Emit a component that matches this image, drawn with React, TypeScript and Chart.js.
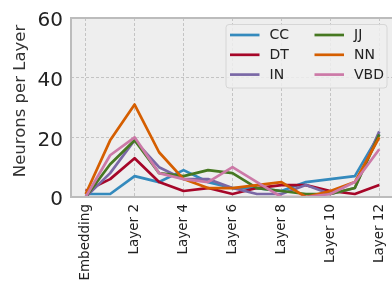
import React, { useEffect, useRef } from "react";
import { Chart, registerables } from "chart.js";

Chart.register(...registerables);

const categories = [
  "Embedding", "Layer 1", "Layer 2", "Layer 3", "Layer 4", "Layer 5", "Layer 6",
  "Layer 7", "Layer 8", "Layer 9", "Layer 10", "Layer 11", "Layer 12",
];
const xTickIndices = [0, 2, 4, 6, 8, 10, 12];
const yTicks = [0, 20, 40, 60];
const yAxisLabel = "Neurons per Layer";

const seriesNames = ["CC", "DT", "IN", "JJ", "NN", "VBD"];
const seriesColors = ["#348ABD", "#A60628", "#7A68A6", "#467821", "#D55E00", "#CC79A7"];

const ccValues = [1, 1, 7, 5, 9, 5, 3, 3, 2, 5, 6, 7, 21];
const dtValues = [2, 6, 13, 5, 2, 3, 1, 3, 4, 4, 2, 1, 4];
const inValues = [0, 8, 19, 10, 6, 6, 3, 1, 1, 4, 1, 3, 22];
const jjValues = [0, 11, 19, 8, 7, 9, 8, 3, 2, 1, 1, 3, 21];
const nnValues = [1, 19, 31, 15, 6, 3, 3, 4, 5, 0, 2, 5, 20];
const vbdValues = [0, 14, 20, 8, 6, 5, 10, 5, 0, 0, 1, 5, 16];

const seriesValues = [ccValues, dtValues, inValues, jjValues, nnValues, vbdValues];

const FONT = "'DejaVu Sans', 'Liberation Sans', sans-serif";

const bgPlugin = {
  id: "bgPlugin",
  beforeDraw(chart: any) {
    const { ctx, chartArea: a } = chart;
    ctx.save();
    ctx.fillStyle = "#ffffff";
    ctx.fillRect(0, 0, chart.width, chart.height);
    ctx.fillStyle = "#eeeeee";
    ctx.fillRect(a.left, a.top, a.right - a.left, a.bottom - a.top);
    ctx.restore();
  },
  afterDatasetsDraw(chart: any) {
    const { ctx, chartArea: a } = chart;
    ctx.save();
    ctx.strokeStyle = "#bcbcbc";
    ctx.lineWidth = 2;
    ctx.strokeRect(a.left, a.top, a.right - a.left + 4, a.bottom - a.top);
    ctx.restore();
  },
  afterDraw(chart: any) {
    const { ctx, chartArea: a } = chart;
    ctx.save();
    // y axis label
    ctx.save();
    ctx.translate(20.5, 101);
    ctx.rotate(-Math.PI / 2);
    ctx.font = `16.5px ${FONT}`;
    ctx.fillStyle = "#333333";
    ctx.textAlign = "center";
    ctx.textBaseline = "middle";
    ctx.fillText(yAxisLabel, 0, 0);
    ctx.restore();

    // legend frame
    const lx = 226, ly = 24.5, lw = 161, lh = 63.5, r = 3;
    ctx.beginPath();
    ctx.moveTo(lx + r, ly);
    ctx.lineTo(lx + lw - r, ly);
    ctx.arcTo(lx + lw, ly, lx + lw, ly + r, r);
    ctx.lineTo(lx + lw, ly + lh - r);
    ctx.arcTo(lx + lw, ly + lh, lx + lw - r, ly + lh, r);
    ctx.lineTo(lx + r, ly + lh);
    ctx.arcTo(lx, ly + lh, lx, ly + lh - r, r);
    ctx.lineTo(lx, ly + r);
    ctx.arcTo(lx, ly, lx + r, ly, r);
    ctx.closePath();
    ctx.fillStyle = "rgba(238,238,238,0.85)";
    ctx.fill();
    ctx.strokeStyle = "#d6d6d6";
    ctx.lineWidth = 1;
    ctx.stroke();

    ctx.font = `14px ${FONT}`;
    ctx.textBaseline = "middle";
    ctx.textAlign = "left";
    for (let i = 0; i < seriesNames.length; i++) {
      const col = Math.floor(i / 3);
      const row = i % 3;
      const x0 = col === 0 ? 230 : 314.5;
      const y = 35 + row * 19.8;
      ctx.strokeStyle = seriesColors[i];
      ctx.lineWidth = 2.7;
      ctx.lineCap = "butt";
      ctx.beginPath();
      ctx.moveTo(x0, y);
      ctx.lineTo(x0 + 29.5, y);
      ctx.stroke();
      ctx.fillStyle = "#222222";
      ctx.fillText(seriesNames[i], x0 + 39.5, y + 0.5);
    }
    ctx.restore();
  },
};

export default function App() {
  const ref = useRef<HTMLCanvasElement | null>(null);

  useEffect(() => {
    if (!ref.current) return;
    const datasets = seriesNames.map((name, i) => ({
      label: name,
      data: seriesValues[i].map((v, j) => ({ x: j, y: v })),
      borderColor: seriesColors[i],
      backgroundColor: seriesColors[i],
      borderWidth: 2.7,
      pointRadius: 0,
      tension: 0,
      borderJoinStyle: "round" as const,
      fill: false,
      order: seriesNames.length - i,
    }));

    const chart = new Chart(ref.current, {
      type: "line",
      data: { datasets },
      plugins: [bgPlugin],
      options: {
        animation: false,
        responsive: false,
        maintainAspectRatio: false,
        layout: { padding: { top: 18, right: 0, left: 0, bottom: 0 } },
        plugins: {
          legend: { display: false },
          tooltip: { enabled: false },
        },
        scales: {
          x: {
            type: "linear",
            min: -0.6,
            max: 12.52,
            afterBuildTicks: (s: any) => {
              s.ticks = xTickIndices.map((v) => ({ value: v }));
            },
            afterFit: (s: any) => {
              s.height = 87;
              s.paddingLeft = 0;
              s.paddingRight = 0;
            },
            ticks: {
              autoSkip: false,
              minRotation: 90,
              maxRotation: 90,
              padding: 7,
              color: "#222222",
              font: { size: 13.5, family: FONT },
              callback: (v: any) => categories[Number(v)] ?? "",
            },
            grid: { color: "#c4c4c4", lineWidth: 1, drawTicks: false },
            border: { display: false, dash: [3, 2] },
          },
          y: {
            type: "linear",
            min: 0,
            max: 60,
            afterBuildTicks: (s: any) => {
              s.ticks = yTicks.map((v) => ({ value: v }));
            },
            afterFit: (s: any) => {
              s.width = 71;
              s.paddingTop = 0;
              s.paddingBottom = 0;
            },
            ticks: {
              padding: 8,
              labelOffset: 3,
              color: "#222222",
              font: { size: 20, family: FONT },
            },
            title: { display: false },
            grid: { color: "#c4c4c4", lineWidth: 1, drawTicks: false },
            border: { display: false, dash: [3, 2] },
          },
        },
      },
    });
    return () => chart.destroy();
  }, []);

  return (
    <div style={{ position: "absolute", left: 0, top: 0, width: 392, height: 284 }}>
      <canvas ref={ref} width={392} height={284} style={{ display: "block" }} />
    </div>
  );
}
